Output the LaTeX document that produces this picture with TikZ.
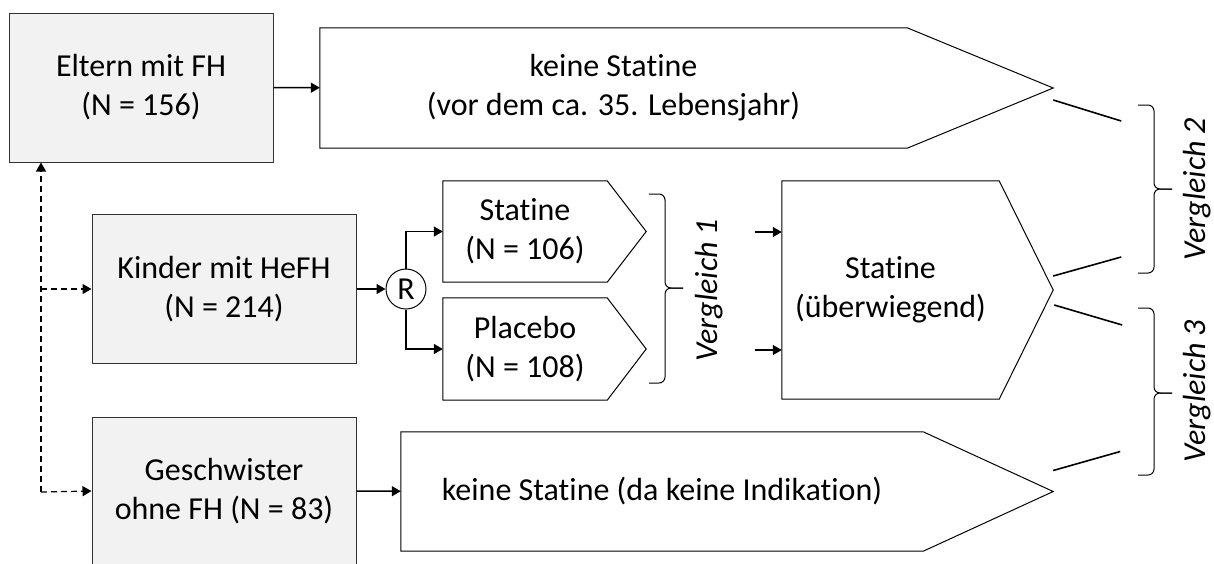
\documentclass[tikz,border=0pt]{standalone}
\usepackage{fontspec}
\setmainfont[Ligatures=NoCommon]{Carlito}
\usetikzlibrary{arrows.meta, positioning}
\definecolor{boxgray}{HTML}{F2F2F2}
\newcommand{\basefont}{\fontsize{32}{39}\selectfont}
\tikzset{
  group/.style={rectangle, draw=black!80, fill=boxgray, line width=1pt, minimum width=264pt, minimum height=149pt, align=center, inner sep=2pt},
  arm/.style={rectangle, inner sep=0pt, align=center},
  armline/.style={draw=black, line width=1pt},
  arrow/.style={-{Triangle[length=9pt, width=10pt]}, line width=1.5pt},
  dasharrow/.style={arrow, line width=1.2pt, dash pattern=on 6pt off 4pt},
  rand/.style={circle, draw=black, line width=1pt, minimum size=40pt, inner sep=0pt},
  brace/.style={draw=black, line width=1pt, rounded corners=6pt},
  cmp/.style={font=\basefont\itshape, rotate=90},
  link/.style={line width=1.6pt},
}
\begin{document}
\begin{tikzpicture}[x=1pt, y=-1pt, font=\basefont]
  \useasboundingbox (0,0) rectangle (1214,563);
  % groups
  \node[group] (eltern) at (141,87.5) {Eltern mit FH\\(N = 156)};
  \node[group] (kinder) at (224,289) {Kinder mit HeFH\\(N = 214)};
  \node[group, minimum height=148pt] (gesch) at (224,491) {Geschwister\\ohne FH (N = 83)};
  \node[rand] (R) at (406,289) {R};
  % treatment arms
  \node[arm, minimum width=587pt, minimum height=120pt] (keine1) at (613.5,88) {keine Statine\\(vor dem ca. 35. Lebensjahr)};
  \node[arm, minimum width=164pt, minimum height=101pt] (statsm) at (525,231.5) {Statine\\(N = 106)};
  \node[arm, minimum width=164pt, minimum height=102pt] (plac) at (525,349) {Placebo\\(N = 108)};
  \node[arm, minimum width=217pt, minimum height=218pt] (statbig) at (890.5,290) {Statine\\(überwiegend)};
  \node[arm, minimum width=522pt, minimum height=119pt] (keine2) at (662,491.5) {keine Statine (da keine Indikation)};
  \foreach \n/\d in {keine1/146, statsm/39, plac/39, statbig/54, keine2/130}
    \draw[armline] (\n.north west) -- (\n.north east) -- ([xshift=\d pt]\n.east) coordinate (\n-tip) -- (\n.south east) -- (\n.south west) -- cycle;
  % comparisons
  \foreach \x/\t/\m/\b in {649/194/288/383, 1138/105/189/273, 1138/308/393/475} {
    \draw[brace] (\x,\t) -- (\x+16,\t) -- (\x+16,\m) -- (\x+34,\m);
    \draw[brace] (\x,\b) -- (\x+16,\b) -- (\x+16,\m) -- (\x+34,\m);
  }
  \node[cmp] (v1) at (709,290) {Vergleich 1};
  \node[cmp] (v2) at (1197,189) {Vergleich 2};
  \node[cmp] (v3) at (1197,391) {Vergleich 3};
  \draw[link] (keine1-tip) ++(0,12) -- ++(68,21);
  \draw[link] (statbig-tip) ++(0,-14) -- ++(68,-19);
  \draw[link] (statbig-tip) ++(1,15) -- ++(68,20);
  \draw[link] (keine2-tip) ++(0,-21) -- ++(67,-19);
  % connectors
  \draw[arrow] (eltern) -- (keine1);
  \draw[arrow] (kinder) -- (R);
  \draw[arrow] (R) |- (statsm);
  \draw[arrow] (R) |- (plac);
  \draw[arrow] (gesch) -- (keine2);
  \coordinate (in1) at (755,232);
  \coordinate (in2) at (755,350);
  \draw[arrow, line width=1.2pt] (in1) -- (in1 -| statbig.west);
  \draw[arrow, line width=1.2pt] (in2) -- (in2 -| statbig.west);
  \coordinate (dashbot) at (41,492);
  \draw[dasharrow] (dashbot) -- (dashbot |- eltern.south);
  \draw[dasharrow] (dashbot |- kinder.west) -- (kinder.west);
  \draw[dasharrow] (dashbot) -- (gesch.west);
\end{tikzpicture}
\end{document}
